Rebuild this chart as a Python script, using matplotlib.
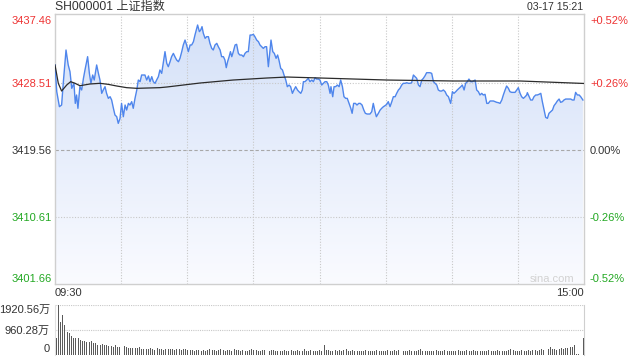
import numpy as np
import matplotlib
matplotlib.use("Agg")
import matplotlib.pyplot as plt
from matplotlib.colors import LinearSegmentedColormap
from matplotlib.patches import Polygon

plt.rcParams['font.family'] = ['Liberation Sans', 'Noto Sans CJK SC', 'DejaVu Sans']

## Data (minutes since 09:30, lunch break removed)
prev_close = 3419.56
y_ticks = [3401.66, 3410.61, 3419.56, 3428.51, 3437.46]
y_labels = ["3401.66", "3410.61", "3419.56", "3428.51", "3437.46"]
pct_labels = ["-0.52%", "-0.26%", "0.00%", "+0.26%", "+0.52%"]

price_time = [
    0.0, 0.8, 2.0, 3.0, 3.8, 5.0, 6.0, 6.8, 7.6, 8.6,
    9.2, 9.8, 10.4, 11.3, 12.1, 12.9, 13.6, 14.8, 15.6, 16.3,
    17.1, 17.8, 18.9, 19.7, 20.4, 21.2, 21.9, 22.7, 23.4, 24.2,
    25.0, 25.7, 26.5, 27.2, 28.0, 28.7, 29.5, 30.2, 31.0, 31.8,
    32.5, 33.3, 34.0, 34.8, 35.5, 36.3, 37.1, 37.8, 38.6, 39.3,
    40.8, 41.6, 42.4, 43.1, 43.9, 44.6, 45.4, 46.1, 46.9, 47.6,
    48.4, 49.2, 49.9, 50.7, 51.4, 52.2, 52.9, 53.7, 54.4, 55.2,
    56.0, 56.7, 57.5, 58.2, 59.0, 59.7, 60.5, 61.3, 62.0, 62.8,
    63.5, 64.3, 64.7, 65.5, 66.1, 66.7, 67.3, 68.1, 68.8, 69.6,
    70.3, 71.1, 71.8, 72.6, 73.4, 74.1, 74.9, 75.6, 76.4, 77.1,
    77.7, 78.3, 79.0, 79.6, 80.2, 80.9, 81.7, 82.4, 83.2, 83.9,
    84.7, 85.5, 86.2, 87.0, 87.7, 88.5, 89.2, 90.0, 90.7, 91.5,
    92.3, 93.0, 93.8, 94.5, 95.3,
    96.0, 96.8, 97.6, 98.0, 98.8, 99.5, 100.3, 101.0, 101.6, 102.4,
    103.2, 103.9, 104.7, 105.4, 106.2, 106.9, 107.7, 108.4, 109.2, 110.0,
    110.7, 111.5, 112.2, 112.7, 113.4, 114.2, 114.9, 115.7, 116.5, 117.2,
    118.0, 118.7, 119.5, 120.2, 121.0, 121.8, 122.5, 123.3, 124.0, 124.8,
    125.2, 126.0, 126.6, 127.3, 128.1, 128.9, 129.6, 130.4, 131.1, 131.9,
    132.6, 133.4, 134.2, 134.8, 135.5, 136.3, 137.0, 137.8, 138.5, 139.3,
    140.1, 140.8, 141.6, 142.3,
    142.9, 143.7, 144.4, 145.2, 145.8, 146.7, 147.5, 148.2, 149.0, 149.7,
    150.5, 151.2, 152.0, 152.8, 153.5, 154.3, 155.0, 155.8, 156.5, 157.3,
    158.0, 158.8, 159.6, 160.3, 161.1, 161.8, 162.6, 163.3, 164.1, 164.9,
    165.6, 166.4, 167.1, 167.9, 168.6, 169.4, 170.1, 170.9, 171.7, 172.4,
    173.2, 173.9, 174.7, 175.4, 176.2, 177.0, 177.7, 178.5, 179.5, 180.3,
    181.0, 181.8, 182.5, 183.3, 184.1, 184.8, 185.6, 186.3, 187.1, 187.8,
    188.6, 189.4, 190.1,
    190.6, 191.3, 192.1, 192.8, 193.6, 194.3, 195.1, 195.9, 196.6, 197.4,
    198.1, 198.9, 199.6, 200.4, 201.2, 201.9, 202.7, 203.4, 204.2, 204.9,
    205.7, 206.4, 207.2, 208.0, 208.7, 209.5, 210.2, 211.0, 211.7, 212.5,
    213.3, 214.0, 214.3, 215.1, 215.8, 216.6, 217.3, 218.1, 218.8, 219.6,
    220.4, 221.1, 221.9, 222.6, 223.4, 224.1, 224.9, 225.7, 226.4, 227.2,
    227.9, 228.7, 229.4, 230.2, 230.9, 231.7, 232.5, 233.2, 234.0, 234.7,
    235.5, 236.2, 237.0, 237.8, 238.5, 239.5,
]
price_value = [
    3430.92, 3427.35, 3425.35, 3425.57, 3428.69, 3432.92, 3430.92, 3430.02, 3427.80, 3428.47,
    3425.79, 3426.91, 3425.13, 3428.02, 3427.58, 3429.13, 3430.25, 3432.03, 3429.80, 3428.47,
    3429.58, 3428.91, 3430.92, 3429.80, 3428.91, 3427.13, 3427.58, 3428.02, 3427.13, 3426.46,
    3426.68, 3426.24, 3425.13, 3424.24, 3424.01, 3423.12, 3423.79, 3425.79, 3424.01, 3425.57,
    3424.90, 3425.79, 3425.57, 3426.02, 3425.13, 3426.46, 3427.58, 3428.91, 3428.69, 3429.58,
    3429.58, 3428.91, 3429.45, 3428.69, 3429.36, 3428.69, 3428.47, 3428.91, 3429.36, 3430.25,
    3429.80, 3431.36, 3432.70, 3431.14, 3430.69, 3431.36, 3432.03, 3432.47, 3432.03, 3431.58,
    3431.36, 3431.81, 3432.70, 3433.59, 3434.25, 3433.59, 3432.70, 3433.59, 3433.59, 3434.03,
    3434.92, 3435.81, 3436.26, 3435.37, 3435.59, 3436.04, 3435.15, 3434.48, 3434.70, 3434.70,
    3433.81, 3433.14, 3432.92, 3433.59, 3433.81, 3433.36, 3432.92, 3432.03, 3432.03, 3431.58,
    3430.56, 3431.36, 3432.03, 3432.70, 3432.03, 3432.70, 3433.59, 3433.68, 3432.47, 3432.25,
    3432.25, 3432.03, 3432.47, 3432.70, 3432.70, 3434.92, 3434.92, 3435.01, 3434.70, 3434.25,
    3434.03, 3433.59, 3433.36, 3433.14, 3433.36,
    3433.36, 3430.69, 3433.14, 3434.25, 3432.70, 3432.47, 3431.81, 3432.25, 3431.58, 3430.47,
    3430.25, 3429.58, 3428.91, 3428.02, 3428.24, 3428.02, 3427.13, 3427.58, 3428.02, 3427.58,
    3427.35, 3427.13, 3427.58, 3428.69, 3428.69, 3428.91, 3429.13, 3428.69, 3428.91, 3428.69,
    3429.22, 3429.04, 3429.04, 3428.91, 3428.24, 3428.47, 3428.69, 3428.69, 3428.24, 3427.13,
    3428.02, 3426.68, 3428.02, 3428.02, 3428.24, 3428.02, 3428.91, 3428.02, 3426.68, 3426.46,
    3426.46, 3425.79, 3425.13, 3424.46, 3425.79, 3425.79, 3425.57, 3425.79, 3425.79, 3425.57,
    3424.90, 3424.46, 3424.37, 3424.37,
    3424.37, 3424.68, 3425.79, 3424.68, 3424.01, 3424.46, 3424.90, 3425.13, 3425.35, 3425.48,
    3425.66, 3426.02, 3425.35, 3426.02, 3426.68, 3426.68, 3427.13, 3427.58, 3427.80, 3428.24,
    3428.47, 3428.47, 3428.55, 3428.47, 3428.47, 3428.55, 3429.58, 3429.36, 3429.13, 3428.24,
    3428.02, 3428.91, 3429.13, 3429.49, 3429.89, 3429.89, 3429.89, 3429.80, 3428.69, 3428.47,
    3428.24, 3427.58, 3427.44, 3427.44, 3427.58, 3427.35, 3426.91, 3426.68, 3425.79, 3427.35,
    3427.13, 3427.35, 3427.58, 3427.80, 3428.02, 3428.24, 3427.58, 3428.47, 3428.69, 3429.04,
    3428.69, 3428.69, 3428.82,
    3428.91, 3427.58, 3427.35, 3426.91, 3427.13, 3426.91, 3427.00, 3425.79, 3425.79, 3426.11,
    3426.11, 3426.11, 3426.02, 3425.93, 3425.88, 3425.79, 3426.24, 3426.91, 3427.58, 3428.11,
    3427.80, 3427.35, 3427.26, 3427.26, 3427.26, 3427.58, 3427.89, 3427.13, 3426.68, 3426.46,
    3426.68, 3426.91, 3427.22, 3426.68, 3426.24, 3426.24, 3426.68, 3426.91, 3426.91, 3427.00,
    3427.13, 3426.02, 3424.90, 3423.92, 3423.79, 3424.46, 3424.68, 3424.90, 3425.48, 3425.79,
    3426.11, 3426.37, 3425.93, 3426.02, 3426.24, 3426.37, 3426.37, 3426.37, 3426.37, 3426.24,
    3426.24, 3427.26, 3426.91, 3426.91, 3426.68, 3426.24,
]

avg_time = [0, 1.5, 3.0, 5.3, 7.1, 9.1, 11.3, 15.9, 20.4, 24.2, 28.0, 32.5,
            37.1, 47.6, 50.8, 65.8, 80.8, 96.2, 105.3, 120.2, 150.6, 180.6, 211.0, 240]
avg_value = [3430.92, 3428.47, 3427.44, 3428.24, 3428.69, 3428.47, 3428.15, 3428.38,
             3428.47, 3428.33, 3428.11, 3427.89, 3427.80, 3427.89, 3427.98, 3428.51,
             3428.91, 3429.18, 3429.31, 3429.18, 3428.91, 3428.78, 3428.78, 3428.45]

# volume per minute, in 万
volume = [
    649, 1920.56, 1259, 1532, 1142, 883, 844, 714, 636, 636,
    636, 558, 519, 519, 480, 480, 519, 441, 441, 363,
    376, 402, 363, 363, 324, 324, 286, 363, 286, 286,
    286, 324, 286, 247, 247, 247, 247, 247, 286, 208,
    208, 208, 208, 247, 208, 169, 247, 208, 208, 169,
    208, 208, 208, 208, 169, 208, 208, 169, 208, 208,
    169, 169, 169, 130, 169, 169, 130,
    169, 130, 169, 195, 169, 156, 130, 169, 208, 169,
    143, 156, 169, 130, 195, 169, 156, 143, 169, 130,
    143, 169, 208, 156, 169, 143, 130, 169, 156, 143,
    130, 156, 169, 143, 130, 117, 143, 156, 130, 143,
    169, 130, 143, 156, 117, 130, 195, 143, 130, 156,
    143, 130, 117,
    156, 130, 364, 156, 169, 130, 143, 182, 130, 156,
    143, 169, 195, 143, 130, 156, 143, 130, 130, 143,
    130, 156, 130, 143, 143, 130, 156, 130, 143, 117,
    143, 169, 143, 130, 156, 143, 169, 143, 130, 117,
    130, 156, 143, 143, 130, 169, 208, 143, 130, 143,
    117, 143, 130, 156, 143, 130, 143, 169, 130, 143,
    130, 117, 143, 156, 130, 143, 130, 156, 143, 130,
    169, 143, 130, 143, 117, 130, 143, 169, 143, 130,
    143, 156, 130, 117, 143, 130, 156, 195, 169, 143,
    130, 143, 156, 143, 130, 156, 143, 169, 156, 143,
    169, 195, 182, 156, 208, 273, 195, 221, 182, 208,
    234, 208, 247, 260, 286, 299, 364, 26, 13, 0,
    650,
]
vol_ticks = [0, 960.28, 1920.56]
vol_labels = ["0", "960.28万", "1920.56万"]

red = '#ee3333'
green = '#22a822'
dark = '#333333'
frame = '#cfcfcf'

## Figure
fig = plt.figure(figsize=(6.4, 3.6), dpi=100)
ax = fig.add_axes([55/640, 1 - 284/360, 529/640, 270/360])
vax = fig.add_axes([55/640, 1 - 354.5/360, 529/640, 49.5/360])

y_lo, y_hi = 3401.66, 3437.73

# gradient fill under the price line
grad = np.linspace(0, 1, 256).reshape(-1, 1)
cmap = LinearSegmentedColormap.from_list('fill', ['#fafbff', '#d3e0f8'])
im = ax.imshow(grad, extent=[0, 240, y_lo, y_hi], origin='lower', aspect='auto',
               cmap=cmap, zorder=1)
verts = [(price_time[0], y_lo)] + list(zip(price_time, price_value)) + [(price_time[-1], y_lo)]
poly = Polygon(verts, closed=True, facecolor='none', edgecolor='none', transform=ax.transData)
ax.add_patch(poly)
im.set_clip_path(poly)

# grid
for t in range(30, 240, 30):
    ax.axvline(t, color='#c8c8c8', lw=0.8, ls=(0, (1, 1.5)), zorder=2)
for yv in (3410.61, 3428.51):
    ax.axhline(yv, color='#c8c8c8', lw=0.8, ls=(0, (1, 1.5)), zorder=2)
ax.axhline(prev_close, color='#a8a8a8', lw=0.8, ls=(0, (3, 2)), zorder=2)

ax.plot(price_time, price_value, color='#4f86ec', lw=1.0, zorder=4)
ax.plot(avg_time, avg_value, color='#2b2b2b', lw=0.9, zorder=5)

ax.set_xlim(0, 240)
ax.set_ylim(y_lo, y_hi)
ax.set_xticks([])
ax.set_yticks(y_ticks)
ax.set_yticklabels(y_labels)
ax.tick_params(axis='y', length=0, pad=2.2, labelsize=8)
left_colors = [green, green, dark, red, red]
for lab, c in zip(ax.get_yticklabels(), left_colors):
    lab.set_color(c)
ax.get_yticklabels()[0].set_va('bottom')
ax.get_yticklabels()[-1].set_va('top')
for s in ax.spines.values():
    s.set_color(frame)
    s.set_linewidth(1)

rax = ax.twinx()
rax.set_ylim(y_lo, y_hi)
rax.set_yticks(y_ticks)
rax.set_yticklabels(pct_labels)
rax.tick_params(axis='y', length=0, pad=4.3, labelsize=8)
for lab, c in zip(rax.get_yticklabels(), left_colors):
    lab.set_color(c)
rax.get_yticklabels()[0].set_va('bottom')
rax.get_yticklabels()[-1].set_va('top')
for s in rax.spines.values():
    s.set_visible(False)

ax.text(0.94, 0.019, 'sina.com', transform=ax.transAxes, ha='center', va='center',
        fontsize=8, color='#d2d2d2', zorder=6)

# time labels
ax.text(0, -9/270, '09:30', transform=ax.transAxes, ha='left', va='center',
        fontsize=8, color=dark)
ax.text(1, -9/270, '15:00', transform=ax.transAxes, ha='right', va='center',
        fontsize=8, color=dark)

fig.text(55/640, 1 - 7/360, 'SH000001 上证指数', ha='left', va='center',
         fontsize=8.7, color=dark)
fig.text(583/640, 1 - 7/360, '03-17 15:21', ha='right', va='center',
         fontsize=7.6, color=dark)

## Volume
vax.bar(np.arange(len(volume)), volume, width=0.45, color='#5a5a5a', zorder=3)
vax.set_xlim(-0.5, 240.3)
vax.set_ylim(0, 1920.56)
vax.set_xticks([])
vax.set_yticks(vol_ticks)
vax.set_yticklabels(vol_labels)
vax.tick_params(axis='y', length=0, pad=3.6, labelsize=8, labelcolor=dark)
vax.get_yticklabels()[0].set_va('bottom')
vax.get_yticklabels()[-1].set_va('top')
for yv in vol_ticks[1:]:
    vax.axhline(yv, color='#c8c8c8', lw=0.8, ls=(0, (1, 1)), zorder=1)
vax.spines['top'].set_visible(False)
vax.spines['bottom'].set_visible(False)
vax.spines['right'].set_color(frame)
vax.spines['left'].set_color('#e2e2e2')

fig.savefig('out.png', dpi=100)
